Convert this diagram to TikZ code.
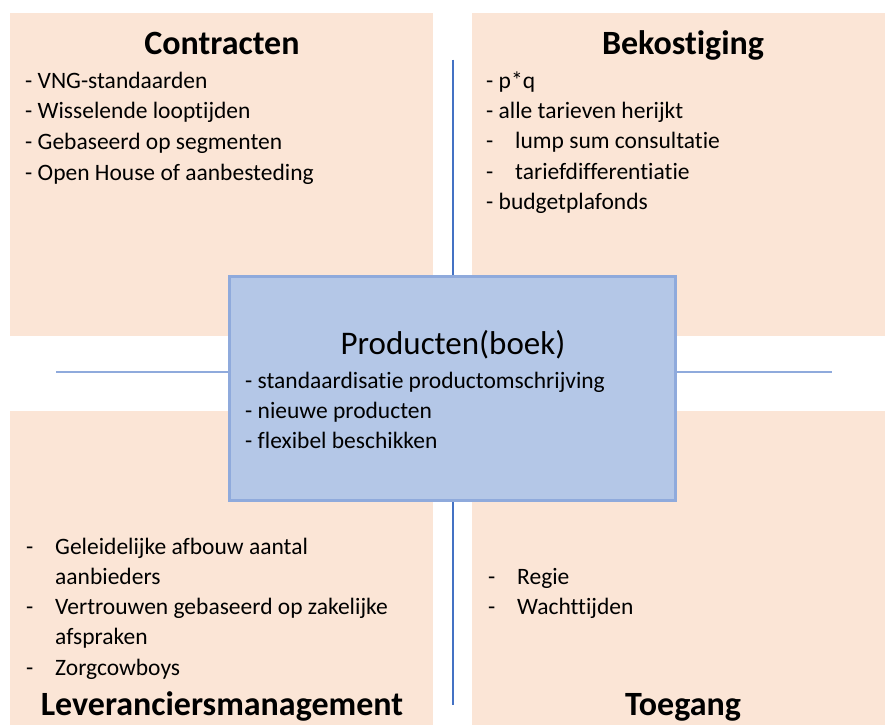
\documentclass[tikz,border=0pt]{standalone}
\usepackage{fontspec}
\setmainfont{Carlito}[Ligatures={NoCommon}]
\definecolor{peach}{HTML}{FBE5D6}
\definecolor{boxfill}{HTML}{B4C7E7}
\definecolor{boxline}{HTML}{8FAADC}
\definecolor{vline}{HTML}{4472C4}
\definecolor{hline}{HTML}{8FAADC}
\tikzset{
  quad/.style={fill=peach, draw=none, anchor=north west, inner sep=0, outer sep=0},
  titletext/.style={anchor=base, inner sep=0, font=\bfseries\fontsize{34}{40}\selectfont},
  body/.style={anchor=base west, inner sep=0, font=\fontsize{23.5}{28}\selectfont},
  centertitle/.style={anchor=base, inner sep=0, font=\fontsize{33}{38}\selectfont},
}
\newcommand{\dsh}{\makebox[29pt][l]{-}}
\begin{document}
\begin{tikzpicture}[x=1pt,y=-1pt]
\useasboundingbox (0,0) rectangle (885,725);
% quadrants
\node[quad, minimum width=423pt, minimum height=323pt] (q1) at (10,13) {};
\node[quad, minimum width=413pt, minimum height=323pt] (q2) at (472,13) {};
\node[quad, minimum width=423pt, minimum height=314pt] (q3) at (10,411) {};
\node[quad, minimum width=413pt, minimum height=314pt] (q4) at (472,411) {};
% axes
\coordinate (vt) at (453,59.5);
\coordinate (vb) at (453,705);
\coordinate (hl) at (56,372);
\coordinate (hr) at (832,372);
\draw[vline, line width=1.2pt] (vt) -- (vb);
\draw[hline, line width=1.5pt] (hl) -- (hr);
% centre box
\node[fill=boxfill, draw=boxline, line width=3pt, anchor=north west, inner sep=0, outer sep=0,
      minimum width=446pt, minimum height=224pt] (cbox) at (229.5,276.5) {};
% titles
\node[titletext] (t1) at (222,55) {Contracten};
\node[titletext] (t2) at (683,55) {Bekostiging};
\node[titletext] (t3) at (222,715) {Leveranciersmanagement};
\node[titletext] (t4) at (683,715) {Toegang};
\node[centertitle] (t0) at (453,354) {Producten(boek)};
% Contracten
\node[body] (c1) at (25,88) {- VNG-standaarden};
\node[body] (c2) at (25,118.7) {- Wisselende looptijden};
\node[body] (c3) at (25,149.3) {- Gebaseerd op segmenten};
\node[body] (c4) at (25,180) {- Open House of aanbesteding};
% Bekostiging
\node[body] (b1) at (486,88) {- p*q};
\node[body] (b2) at (486,118.5) {- alle tarieven herijkt};
\node[body] (b3) at (486,148.7) {\dsh lump sum consultatie};
\node[body] (b4) at (486,179) {\dsh tariefdifferentiatie};
\node[body] (b5) at (486,209.5) {- budgetplafonds};
% Producten
\node[body] (p1) at (245,388) {- standaardisatie productomschrijving};
\node[body] (p2) at (245,418) {- nieuwe producten};
\node[body] (p3) at (245,448) {- flexibel beschikken};
% Leveranciersmanagement
\node[body] (l1) at (26,554.5) {\dsh Geleidelijke afbouw aantal};
\node[body] (l2) at (55,584.5) {aanbieders};
\node[body] (l3) at (26,614.5) {\dsh Vertrouwen gebaseerd op zakelijke};
\node[body] (l4) at (55,644.5) {afspraken};
\node[body] (l5) at (26,675) {\dsh Zorgcowboys};
% Toegang
\node[body] (g1) at (488,584.5) {\dsh Regie};
\node[body] (g2) at (488,614.5) {\dsh Wachttijden};
\end{tikzpicture}
\end{document}
